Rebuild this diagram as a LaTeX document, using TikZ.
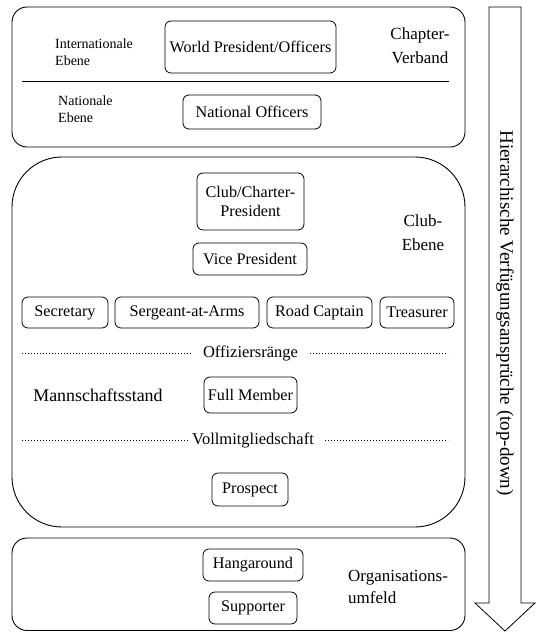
\documentclass[tikz,border=0pt]{standalone}
\usepackage{fontspec}
\setmainfont{Liberation Serif}
\begin{document}
\begin{tikzpicture}[x=1pt,y=-1pt,
  role/.style={draw,rounded corners=6pt,line width=0.8pt,inner sep=0pt,font=\fontsize{16.2}{18.5}\selectfont,align=center},
  lvl/.style={font=\fontsize{17}{24}\selectfont,align=center,inner sep=0pt},
  small/.style={font=\fontsize{14}{17.5}\selectfont,align=left,inner sep=0pt,anchor=west},
  sep/.style={font=\fontsize{16.5}{18}\selectfont,inner sep=0pt},
  dotline/.style={dotted,line width=1pt},
  frame/.style={draw,line width=0.9pt}]
\useasboundingbox (0,0) rectangle (540,632);
% Chapter-Verband
\draw[frame,rounded corners=15pt] (12,7) rectangle (465,147);
\draw[line width=0.7pt] (22,81) -- (449,81);
\node[role,minimum width=171pt,minimum height=52pt] (wp) at (250.5,47) {World President/Officers};
\node[role,minimum width=138pt,minimum height=34pt] (no) at (252,112) {National Officers};
\node[small] (ie) at (55,52) {Internationale\\Ebene};
\node[small] (ne) at (58,109) {Nationale\\Ebene};
\node[lvl] (cv) at (420,45.5) {Chapter-\\Verband};
% Club-Ebene
\draw[frame,rounded corners=50pt] (12,157) rectangle (465,527);
\node[role,minimum width=107pt,minimum height=57pt] (ccp) at (250.5,201.5) {Club/Charter-\\President};
\node[role,minimum width=114pt,minimum height=32pt] (vp) at (250,259) {Vice President};
\node[lvl] (ce) at (423,233) {Club-\\Ebene};
\node[role,minimum width=86pt,minimum height=31pt] (sec) at (65,312.5) {Secretary};
\node[role,minimum width=144pt,minimum height=31pt] (sgt) at (187,312.5) {Sergeant-at-Arms};
\node[role,minimum width=105pt,minimum height=31pt] (rc) at (319.5,312.5) {Road Captain};
\node[role,minimum width=74pt,minimum height=31pt] (tr) at (417,312.5) {Treasurer};
\node[sep] (off) at (250.5,353) {Offiziersränge};
\coordinate (offl) at (22,353);
\coordinate (offr) at (448,353);
\draw[dotline] (offl) -- (192,353);
\draw[dotline] (310,353) -- (offr);
\node[lvl,font=\fontsize{17.9}{20}\selectfont] (ms) at (98,395) {Mannschaftsstand};
\node[role,minimum width=93pt,minimum height=36pt] (fm) at (250.5,395) {Full Member};
\node[sep] (voll) at (253,440) {Vollmitgliedschaft};
\coordinate (volll) at (22,440);
\coordinate (vollr) at (448,440);
\draw[dotline] (volll) -- (190,440);
\draw[dotline] (325,440) -- (vollr);
\node[role,minimum width=76pt,minimum height=33pt] (pr) at (250,489.5) {Prospect};
% Organisationsumfeld
\draw[frame,rounded corners=15pt] (12,538) rectangle (465,630.5);
\node[role,minimum width=100pt,minimum height=32pt] (ha) at (253,565) {Hangaround};
\node[role,minimum width=88pt,minimum height=32pt] (su) at (253,608) {Supporter};
\node[lvl,align=left,anchor=west,font=\fontsize{17}{22}\selectfont] (ou) at (348,587) {Organisations-\\umfeld};
% Arrow
\draw[line width=0.8pt,fill=white] (489,7) -- (521,7) -- (521,603) -- (535,603) -- (505,631) -- (475,603) -- (489,603) -- cycle;
\node[sep,rotate=-90,font=\fontsize{19}{21}\selectfont] (arr) at (505,313) {Hierarchische Verfügungsansprüche (top-down)};
\end{tikzpicture}
\end{document}
